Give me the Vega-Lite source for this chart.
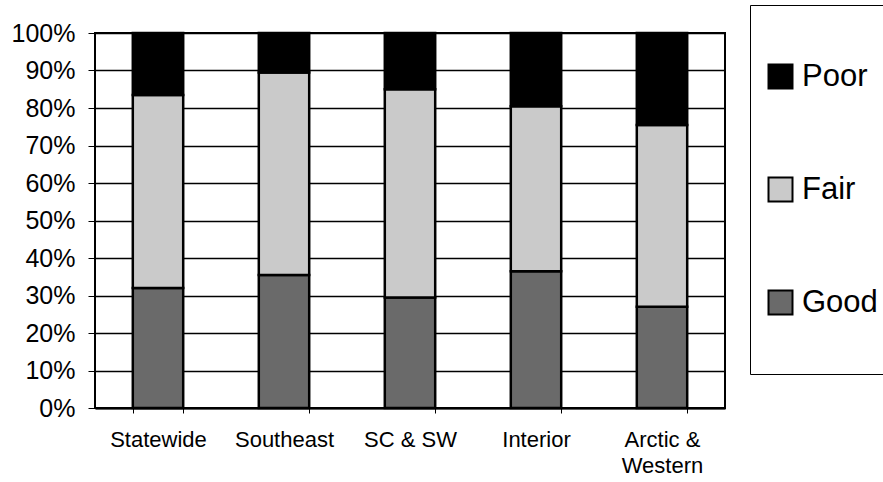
{
  "$schema": "https://vega.github.io/schema/vega-lite/v6.json",
  "width": 630,
  "height": 375,
  "autosize": {"type": "none"},
  "padding": {"left": 95, "top": 33, "right": 158, "bottom": 74},
  "background": "white",
  "config": {
    "font": "Liberation Sans",
    "view": {"stroke": "black", "strokeWidth": 2},
    "axis": {"labelColor": "black", "domainColor": "black", "tickColor": "black", "gridColor": "black"}
  },
  "data": {
    "values": [
      {"region": "Statewide", "condition": "Good", "pct": 0.32},
      {"region": "Statewide", "condition": "Fair", "pct": 0.515},
      {"region": "Statewide", "condition": "Poor", "pct": 0.165},
      {"region": "Southeast", "condition": "Good", "pct": 0.355},
      {"region": "Southeast", "condition": "Fair", "pct": 0.54},
      {"region": "Southeast", "condition": "Poor", "pct": 0.105},
      {"region": "SC & SW", "condition": "Good", "pct": 0.295},
      {"region": "SC & SW", "condition": "Fair", "pct": 0.555},
      {"region": "SC & SW", "condition": "Poor", "pct": 0.15},
      {"region": "Interior", "condition": "Good", "pct": 0.365},
      {"region": "Interior", "condition": "Fair", "pct": 0.44},
      {"region": "Interior", "condition": "Poor", "pct": 0.195},
      {"region": "Arctic & Western", "condition": "Good", "pct": 0.27},
      {"region": "Arctic & Western", "condition": "Fair", "pct": 0.485},
      {"region": "Arctic & Western", "condition": "Poor", "pct": 0.245}
    ]
  },
  "transform": [
    {"calculate": "indexof(['Good', 'Fair', 'Poor'], datum.condition)", "as": "stackOrder"}
  ],
  "mark": {"type": "bar", "stroke": "black", "strokeWidth": 2.5},
  "encoding": {
    "x": {
      "field": "region",
      "type": "nominal",
      "sort": ["Statewide", "Southeast", "SC & SW", "Interior", "Arctic & Western"],
      "scale": {"paddingInner": 0.6, "paddingOuter": 0.3},
      "axis": {
        "title": null,
        "labelAngle": 0,
        "labelFontSize": 22,
        "labelPadding": 16,
        "labelLineHeight": 26,
        "tickBand": "extent",
        "tickSize": 5,
        "domainWidth": 2,
        "labelExpr": "datum.label == 'Arctic & Western' ? ['Arctic &', 'Western'] : datum.label"
      }
    },
    "y": {
      "field": "pct",
      "type": "quantitative",
      "stack": "zero",
      "scale": {"domain": [0, 1]},
      "axis": {
        "title": null,
        "format": ".0%",
        "values": [0, 0.1, 0.2, 0.3, 0.4, 0.5, 0.6, 0.7, 0.8, 0.9, 1],
        "labelOverlap": false,
        "labelFontSize": 25,
        "labelPadding": 13,
        "tickSize": 7,
        "grid": true,
        "gridWidth": 1.3,
        "domain": false
      }
    },
    "order": {"field": "stackOrder", "type": "quantitative", "sort": "ascending"},
    "color": {
      "field": "condition",
      "type": "nominal",
      "sort": ["Poor", "Fair", "Good"],
      "scale": {"domain": ["Poor", "Fair", "Good"], "range": ["#000000", "#cacaca", "#6a6a6a"]},
      "legend": {
        "title": null,
        "orient": "none",
        "legendX": 655,
        "legendY": -28,
        "strokeColor": "black",
        "padding": 15,
        "symbolType": "square",
        "symbolSize": 576,
        "symbolStrokeColor": "black",
        "symbolStrokeWidth": 2,
        "labelFontSize": 31,
        "labelColor": "black",
        "labelOffset": 6,
        "clipHeight": 113,
        "rowPadding": 0
      }
    }
  }
}
